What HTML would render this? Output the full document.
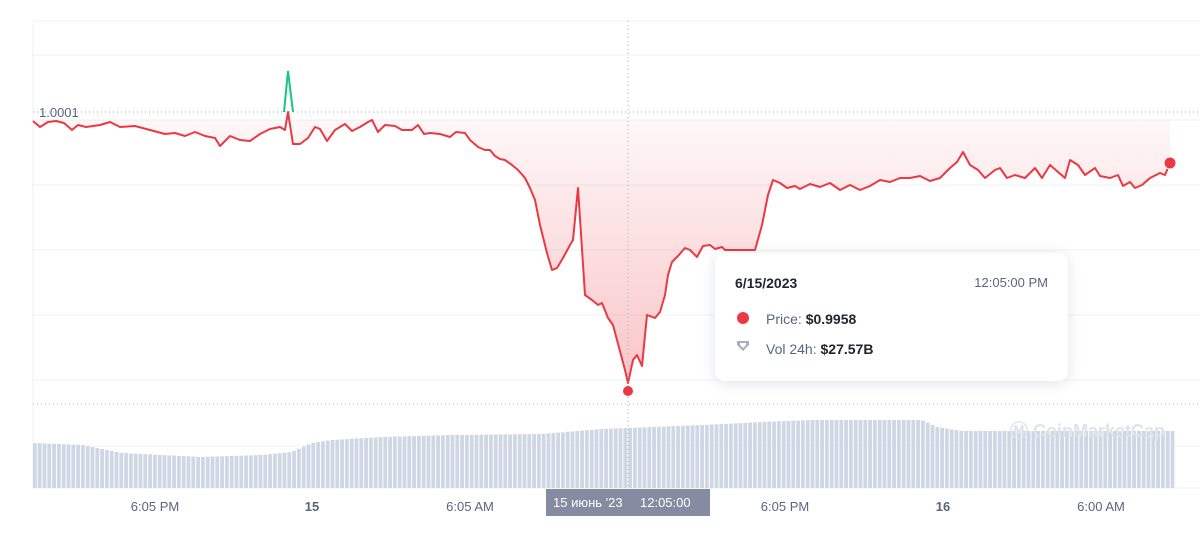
<!DOCTYPE html>
<html><head><meta charset="utf-8"><style>
html,body{margin:0;padding:0;background:#fff;width:1200px;height:549px;overflow:hidden;font-family:"Liberation Sans",sans-serif}
#c{position:absolute;left:0;top:0}
.tt{position:absolute;left:715px;top:253px;width:353px;height:128px;background:#fff;border-radius:10px;box-shadow:0 2px 14px rgba(88,102,126,.18);font-size:14px;color:#222531}
.xl{position:absolute;top:499px;font-size:13px;color:#58667e;transform:translateX(-50%)}
</style></head><body>
<svg id="c" width="1200" height="549" xmlns="http://www.w3.org/2000/svg">
<defs><linearGradient id="g" x1="0" y1="0" x2="0" y2="1"><stop offset="0" stop-color="#ea3943" stop-opacity="0.1"/><stop offset="1" stop-color="#ea3943" stop-opacity="0.28"/></linearGradient>
<linearGradient id="g2" x1="0" y1="120" x2="0" y2="391" gradientUnits="userSpaceOnUse"><stop offset="0" stop-color="#ea3943" stop-opacity="0.04"/><stop offset="1" stop-color="#ea3943" stop-opacity="0.3"/></linearGradient></defs>
<g stroke="#eff2f5" stroke-width="1">
<line x1="33" y1="21" x2="1200" y2="21"/><line x1="33" y1="55" x2="1200" y2="55"/><line x1="33" y1="120" x2="1200" y2="120"/><line x1="33" y1="185" x2="1200" y2="185"/><line x1="33" y1="250" x2="1200" y2="250"/><line x1="33" y1="315" x2="1200" y2="315"/><line x1="33" y1="380" x2="1200" y2="380"/><line x1="33" y1="446" x2="1200" y2="446"/><line x1="33" y1="488" x2="1200" y2="488"/>
<line x1="33" y1="21" x2="33" y2="488"/></g>
<line x1="33" y1="112" x2="1200" y2="112" stroke="#a6b0c3" stroke-dasharray="1,3"/>
<line x1="33" y1="404" x2="1200" y2="404" stroke="#a6b0c3" stroke-dasharray="1,3"/>
<text x="39" y="117" font-size="13" fill="#58667e">1.0001</text>
<g id="bars" fill="#cfd6e4"></g>
<text x="1010" y="437" font-size="18" fill="#dfe3ea" font-weight="bold">Ⓜ CoinMarketCap</text>
<polygon id="fill" fill="url(#g2)"/>
<polyline id="line" fill="none" stroke="#ea3943" stroke-width="2" stroke-linejoin="round"/>
<polyline points="284,112 288,71 293,112" fill="none" stroke="#16c784" stroke-width="2"/>
<line x1="628" y1="21" x2="628" y2="489" stroke="#a6b0c3" stroke-dasharray="1,3"/>
<circle cx="628" cy="391" r="5" fill="#ea3943"/>
<circle cx="1170" cy="163" r="6" fill="#ea3943" stroke="#fff" stroke-width="1"/>
<rect x="546" y="489" width="164" height="27" fill="#858ca2"/>
<text x="553" y="507" font-size="13" fill="#fff">15 июнь '23</text>
<text x="640" y="507" font-size="13" fill="#fff">12:05:00</text>
</svg>
<div class="xl" style="left:155px">6:05 PM</div>
<div class="xl" style="left:312px;font-weight:bold">15</div>
<div class="xl" style="left:470px">6:05 AM</div>
<div class="xl" style="left:785px">6:05 PM</div>
<div class="xl" style="left:943px;font-weight:bold">16</div>
<div class="xl" style="left:1101px">6:00 AM</div>
<div class="tt">
<div style="position:absolute;left:20px;top:22px;font-weight:bold">6/15/2023</div>
<div style="position:absolute;right:20px;top:22px;font-size:13px;color:#58667e">12:05:00 PM</div>
<div style="position:absolute;left:22px;top:59px;width:12px;height:12px;border-radius:50%;background:#ea3943"></div>
<div style="position:absolute;left:51px;top:58px"><span style="color:#58667e">Price:</span> <b>$0.9958</b></div>
<svg style="position:absolute;left:21px;top:87px" width="14" height="12"><path d="M1 1H13V5L7 11L1 5Z" fill="#a6b0c3"/><path d="M4 3H10V5L7 8L4 5Z" fill="#fff"/></svg>
<div style="position:absolute;left:51px;top:88px"><span style="color:#58667e">Vol 24h:</span> <b>$27.57B</b></div>
</div>
<script>
var p=[[33,121],[40,127],[48,122],[56,121],[64,123],[72,130],[78,125],[86,127],[100,125],[110,122],[120,127],[135,126],[150,130],[165,134],[175,133],[185,136],[195,132],[205,136],[215,138],[220,146],[230,136],[240,140],[250,141],[260,134],[270,129],[280,127],[285,130],[288,112],[293,144],[300,144],[308,138],[315,127],[320,129],[327,141],[335,130],[345,124],[352,131],[360,127],[368,122],[372,120],[378,132],[385,125],[395,126],[402,130],[412,130],[418,125],[424,134],[430,133],[440,134],[450,137],[456,132],[465,133],[470,140],[478,147],[485,150],[490,150],[495,156],[500,159],[505,160],[512,165],[518,170],[525,178],[530,188],[535,200],[540,225],[547,253],[552,270],[557,268],[563,258],[570,245],[573,240],[578,188],[585,295],[592,300],[598,305],[602,303],[608,318],[613,325],[617,340],[625,370],[628,383],[633,360],[637,355],[642,366],[647,315],[655,318],[660,312],[665,295],[668,275],[672,262],[678,256],[685,248],[690,250],[697,257],[703,246],[710,245],[715,249],[722,247],[725,250],[740,250],[755,250],[762,225],[768,195],[773,180],[780,183],[787,188],[795,186],[800,189],[810,184],[820,187],[830,183],[840,190],[850,185],[860,190],[870,186],[880,180],[890,182],[900,178],[910,178],[920,176],[930,181],[940,178],[950,168],[957,162],[963,152],[970,165],[978,170],[985,178],[995,170],[1000,168],[1007,178],[1015,175],[1025,178],[1035,168],[1042,178],[1050,165],[1058,172],[1065,178],[1070,160],[1078,165],[1085,175],[1095,168],[1100,176],[1110,178],[1118,175],[1123,186],[1130,182],[1135,188],[1142,185],[1150,178],[1160,173],[1165,175],[1170,163]];
var s=p.map(function(a){return a.join(',')}).join(' ');
document.getElementById('line').setAttribute('points',s);
document.getElementById('fill').setAttribute('points','33,120 '+s+' 1170,120');
var env=[[33,443],[80,445],[120,453],[200,457],[260,455],[290,452],[310,443],[330,440],[380,437],[450,435],[540,434],[600,429],[700,425],[760,422],[810,420],[920,420],[935,427],[960,431],[1175,431]];
function h(x){for(var i=1;i<env.length;i++){if(x<=env[i][0]){var a=env[i-1],b=env[i];return a[1]+(b[1]-a[1])*(x-a[0])/(b[0]-a[0]);}}return 431;}
var g=document.getElementById('bars'),o='';
for(var x=33;x<1175;x+=4.8){var y=h(x);o+='<rect x="'+x.toFixed(1)+'" y="'+y.toFixed(1)+'" width="3.8" height="'+(488-y).toFixed(1)+'"/>';}
g.innerHTML=o;
</script>
</body></html>
